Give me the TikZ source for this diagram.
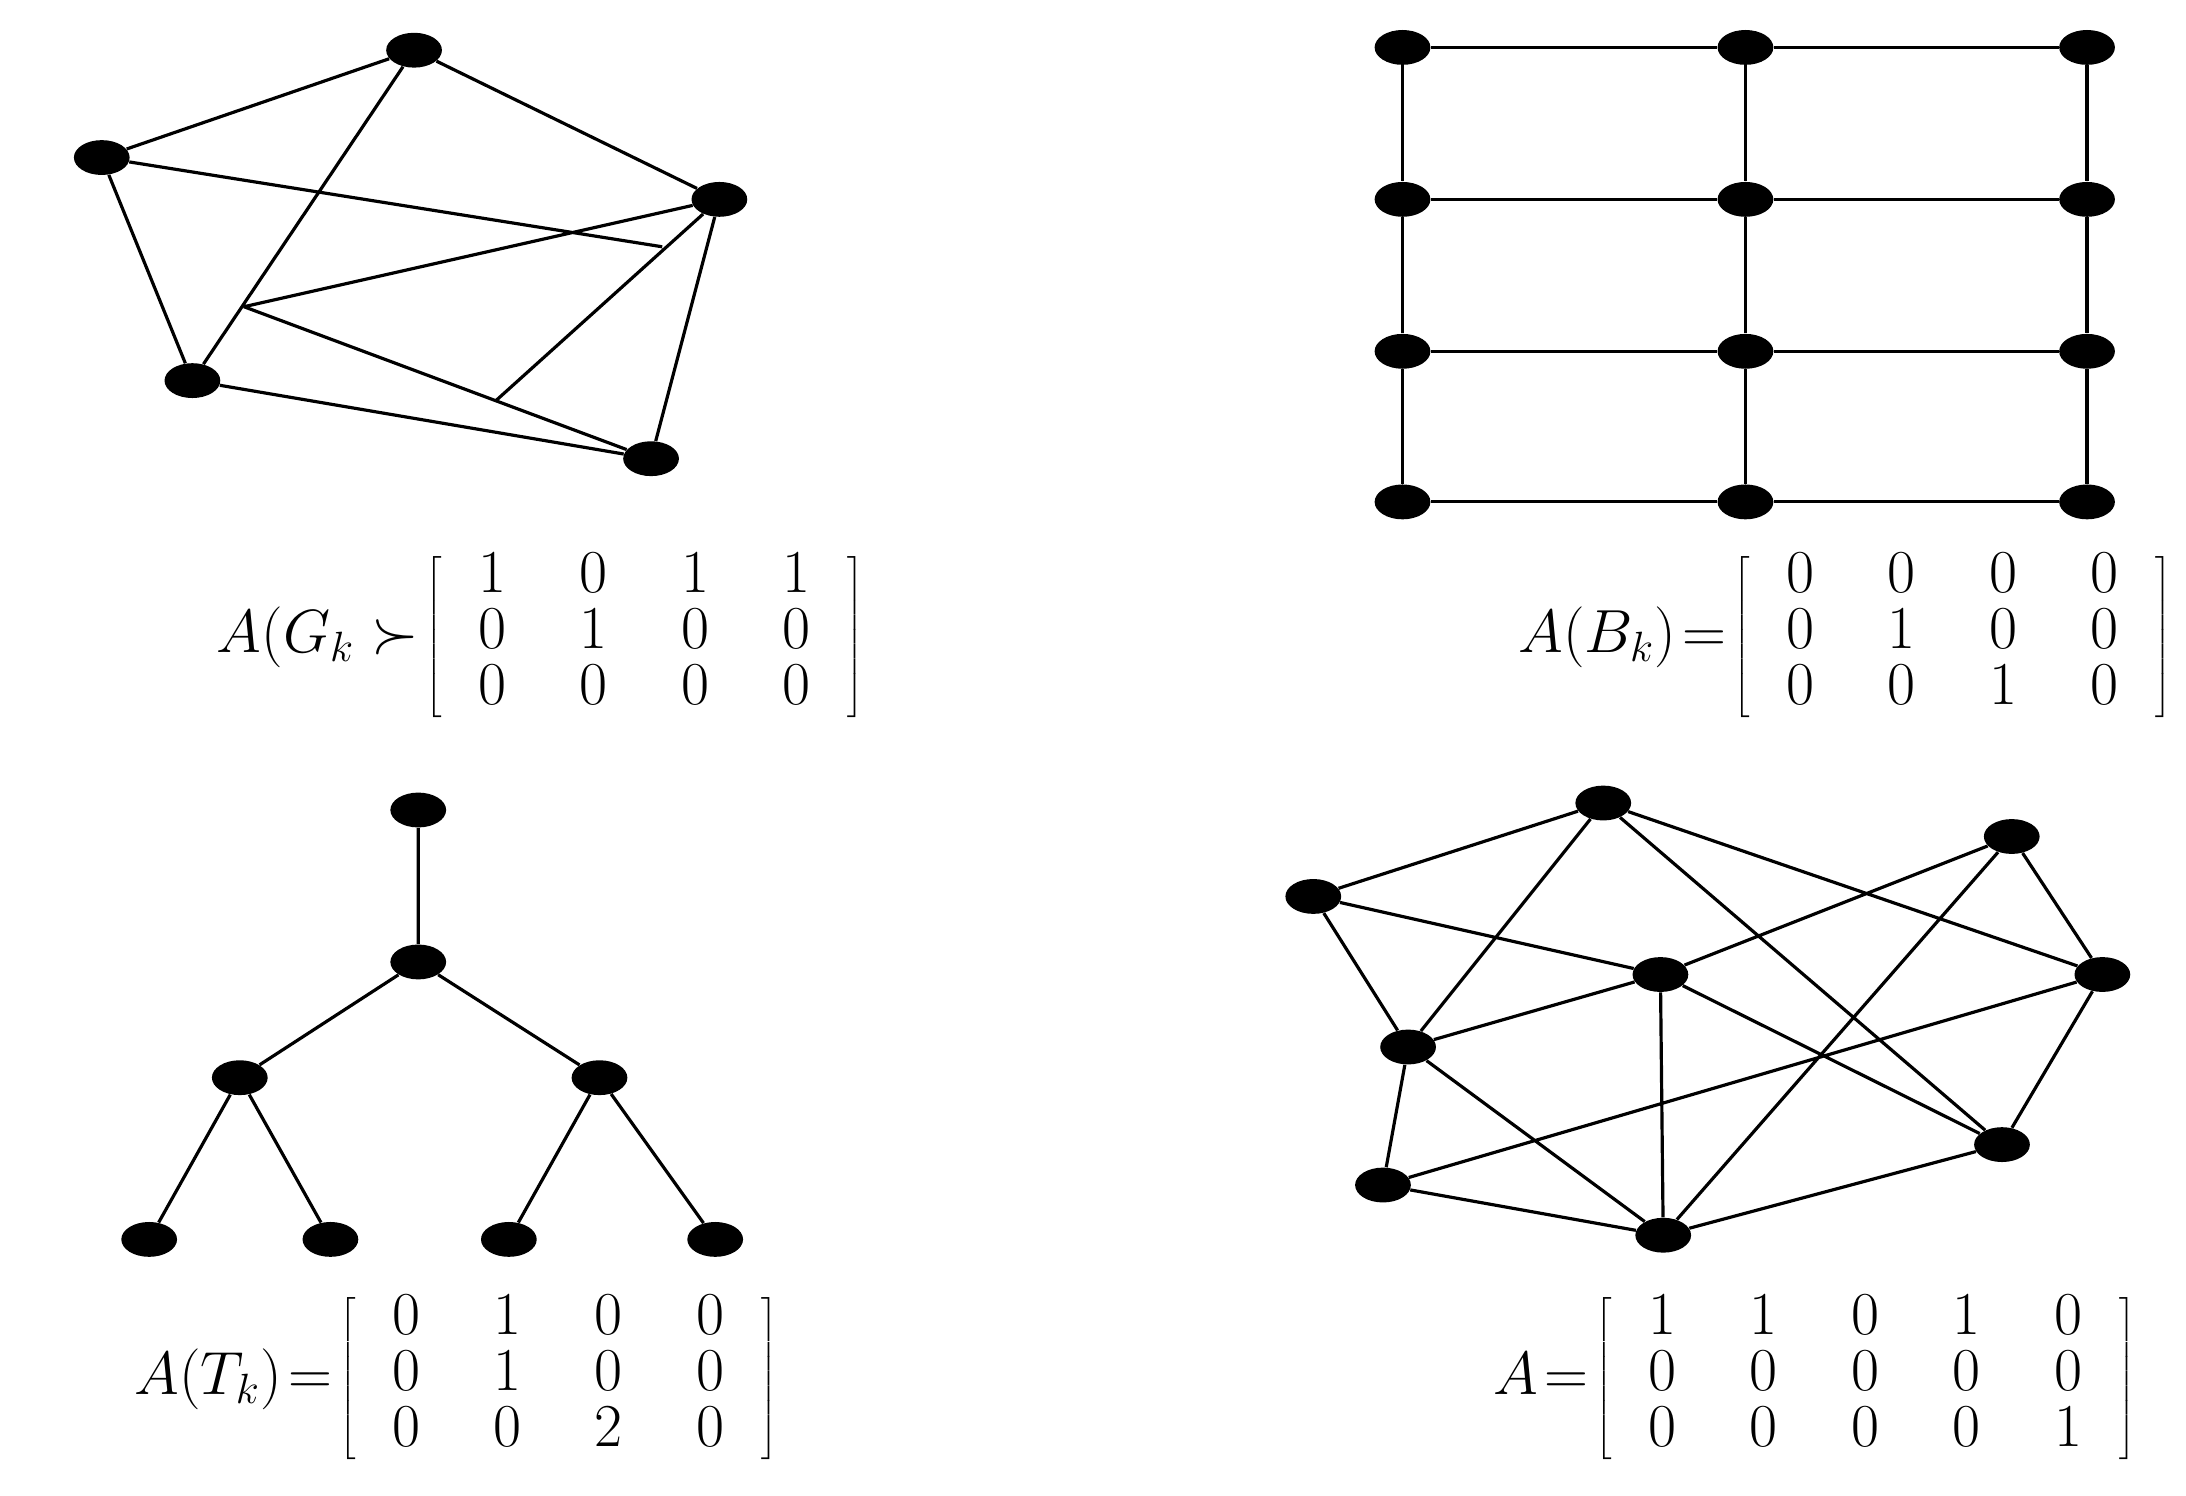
\documentclass[tikz,border=0pt]{standalone}
\usetikzlibrary{shapes.geometric}
\begin{document}
\begin{tikzpicture}[x=0.02cm,y=-0.02cm,
  vtx/.style={ellipse,fill=black,minimum width=0.8cm,minimum height=0.5cm,inner sep=0pt},
  edge/.style={line width=1.3pt},
  mat/.style={font=\fontsize{25}{20.6}\selectfont,inner sep=0pt}]
\useasboundingbox[fill=white] (0,0) rectangle (1568,1073);
% top-left graph
\node[vtx] (a) at (297,36) {};
\node[vtx] (b) at (73,113) {};
\node[vtx] (c) at (516,143) {};
\node[vtx] (d) at (138,273) {};
\node[vtx] (e) at (467,329) {};
\coordinate (p1) at (175,220);
\coordinate (p2) at (475,177);
\coordinate (p3) at (355,288);
\draw[edge] (b)--(a) (a)--(c) (b)--(d) (a)--(d) (b)--(p2) (c)--(p1) (p1)--(e) (d)--(e) (c)--(e) (c)--(p3);
\node[mat,anchor=east] (mG) at (620,457) {$\renewcommand\arraystretch{1.1}\setlength\arraycolsep{15pt}A(G_k\succ\!\left[\begin{array}{cccc}1&0&1&1\\0&1&0&0\\0&0&0&0\end{array}\right]$};
% top-right grid
\foreach \i/\x in {1/1006,2/1252,3/1497}
  \foreach \j/\y in {1/34,2/143,3/252,4/360}
    \node[vtx] (g\i\j) at (\x,\y) {};
\foreach \i in {1,2,3} \draw[edge] (g\i1)--(g\i2)--(g\i3)--(g\i4);
\foreach \j in {1,2,3,4} \draw[edge] (g1\j)--(g2\j)--(g3\j);
\node[mat,anchor=east] (mB) at (1558,457) {$\renewcommand\arraystretch{1.1}\setlength\arraycolsep{15pt}A(B_k)\!=\!\left[\begin{array}{cccc}0&0&0&0\\0&1&0&0\\0&0&1&0\end{array}\right]$};
% bottom-left tree
\node[vtx] (t0) at (300,581) {};
\node[vtx] (t1) at (300,690) {};
\node[vtx] (t2) at (172,773) {};
\node[vtx] (t3) at (430,773) {};
\node[vtx] (t4) at (107,889) {};
\node[vtx] (t5) at (237,889) {};
\node[vtx] (t6) at (365,889) {};
\node[vtx] (t7) at (513,889) {};
\draw[edge] (t0)--(t1) (t1)--(t2) (t1)--(t3) (t2)--(t4) (t2)--(t5) (t3)--(t6) (t3)--(t7);
\node[mat,anchor=east] (mT) at (558,989) {$\renewcommand\arraystretch{1.1}\setlength\arraycolsep{15pt}A(T_k)\!=\!\left[\begin{array}{cccc}0&1&0&0\\0&1&0&0\\0&0&2&0\end{array}\right]$};
% bottom-right graph
\node[vtx] (n1) at (1150,576) {};
\node[vtx] (n2) at (942,643) {};
\node[vtx] (n3) at (1443,600) {};
\node[vtx] (n4) at (1191,699) {};
\node[vtx] (n5) at (1508,699) {};
\node[vtx] (n6) at (1010,751) {};
\node[vtx] (n7) at (1436,821) {};
\node[vtx] (n8) at (992,850) {};
\node[vtx] (n9) at (1193,886) {};
\draw[edge] (n2)--(n1) (n2)--(n4) (n2)--(n6) (n1)--(n6) (n1)--(n5) (n1)--(n7)
  (n3)--(n4) (n3)--(n9) (n3)--(n5) (n4)--(n6) (n4)--(n9) (n4)--(n7)
  (n5)--(n8) (n5)--(n7) (n6)--(n8) (n6)--(n9) (n8)--(n9) (n9)--(n7);
\node[mat,anchor=east] (mA) at (1532,989) {$\renewcommand\arraystretch{1.1}\setlength\arraycolsep{15pt}A\!=\!\left[\begin{array}{ccccc}1&1&0&1&0\\0&0&0&0&0\\0&0&0&0&1\end{array}\right]$};
\end{tikzpicture}
\end{document}
